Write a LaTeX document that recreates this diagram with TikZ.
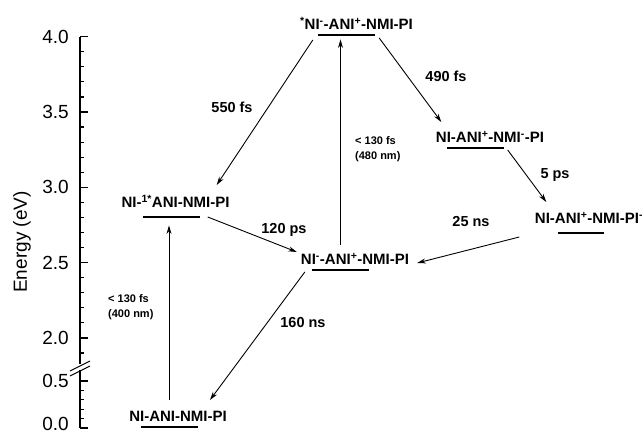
\documentclass[tikz,border=0pt]{standalone}
\usepackage{fontspec}
\setmainfont{Liberation Sans}
\usetikzlibrary{arrows.meta}
\tikzset{
  bar/.style={fill=black,inner sep=0pt,minimum height=2.5pt,minimum width=57pt},
  state/.style={font=\fontsize{15}{15}\selectfont\bfseries,inner sep=0pt,anchor=base},
  rate/.style={font=\fontsize{14.5}{14.5}\selectfont\bfseries,inner sep=0pt},
  pump/.style={font=\fontsize{11}{15}\selectfont\bfseries,inner sep=0pt,align=left,anchor=west},
  ticklab/.style={font=\fontsize{19}{19}\selectfont,anchor=east,inner sep=0pt},
  trans/.style={->,line width=0.9pt},
}
\begin{document}
\begin{tikzpicture}[x=1pt,y=-1pt,>={Stealth[length=8.5pt,width=5pt]}]
  \useasboundingbox (0,0) rectangle (642,435);
  % energy axis (broken)
  \draw[line width=1.4pt] (80,36.7) -- (80,364);
  \draw[line width=1.4pt] (80,370) -- (80,428);
  \foreach \i in {0,...,21} \draw[line width=1.2pt] (80,36.7+15.06*\i) -- ++(4,0);
  \foreach \i in {0,5,...,20} \draw[line width=1.2pt] (80,36.7+15.06*\i) -- ++(7.5,0);
  \foreach \i in {0,...,5} \draw[line width=1.2pt] (80,428-9.4*\i) -- ++(4,0);
  \foreach \i in {0,5} \draw[line width=1.2pt] (80,428-9.4*\i) -- ++(7.5,0);
  \foreach \e/\i in {4.0/0,3.5/5,3.0/10,2.5/15,2.0/20}
    \node[ticklab] at (69,36.7+15.06*\i) {\e};
  \node[ticklab] at (69,381) {0.5};
  \node[ticklab] at (69,424) {0.0};
  \draw[line width=1pt] (70,371) -- (90,361);
  \draw[line width=1pt] (70,376) -- (90,366);
  \node[rotate=90,font=\fontsize{19}{19}\selectfont] (ylab) at (22,242) {Energy (eV)};

  % levels
  \node[bar] (b0) at (169,427) {};
  \node[bar] (b1) at (171,217) {};
  \node[bar] (b2) at (340.5,270) {};
  \node[bar] (b3) at (346.5,35) {};
  \node[bar] (b4) at (475,148) {};
  \node[bar,minimum width=46pt] (b5) at (580.5,233) {};
  \node[state] (t0) at (178,421.7) {NI-ANI-NMI-PI};
  \node[state] (t1) at (175.5,207.7) {NI-\textsuperscript{1*}ANI-NMI-PI};
  \node[state] (t2) at (355,264.3) {NI\textsuperscript{-}-ANI\textsuperscript{+}-NMI-PI};
  \node[state] (t3) at (356.5,29.3) {\textsuperscript{*}NI\textsuperscript{-}-ANI\textsuperscript{+}-NMI-PI};
  \node[state] (t4) at (490,142.7) {NI-ANI\textsuperscript{+}-NMI\textsuperscript{-}-PI};
  \node[state] (t5) at (589,223.3) {NI-ANI\textsuperscript{+}-NMI-PI\textsuperscript{-}};

  % transitions
  \draw[trans] ([yshift=27pt]b0.center) -- (b0.center |- b1.south) [shorten >=7pt];
  \draw[trans] ([yshift=25pt]b2.center) -- (b2.center |- b3.south) [shorten >=3pt];
  \draw[trans] ([shift={(-5,5)}]b3.west) -- ([shift={(17,-32)}]b1.east);
  \draw[trans] ([shift={(4,3)}]b3.east) -- ([shift={(-5,-26)}]b4.west);
  \draw[trans] ([shift={(4,2)}]b4.east) -- ([shift={(-11,-31)}]b5.west);
  \draw[trans] ([shift={(-38,4)}]b5.west) -- ([shift={(48,-7)}]b2.east);
  \draw[trans] ([shift={(8,0)}]b1.east) -- ([shift={(-15,-18)}]b2.west);
  \draw[trans] ([shift={(-7,2)}]b2.west) -- ([shift={(41,-27)}]b0.center);

  % rates
  \node[rate] (r1) at (232,107) {550 fs};
  \node[rate] (r2) at (446,76) {490 fs};
  \node[rate] (r3) at (555,175) {5 ps};
  \node[rate] (r4) at (471,222) {25 ns};
  \node[rate] (r5) at (284,230) {120 ps};
  \node[rate] (r6) at (303,323) {160 ns};
  \node[pump] (p1) at (108,307.5) {< 130 fs\\(400 nm)};
  \node[pump] (p2) at (355,149) {< 130 fs\\(480 nm)};
\end{tikzpicture}
\end{document}
